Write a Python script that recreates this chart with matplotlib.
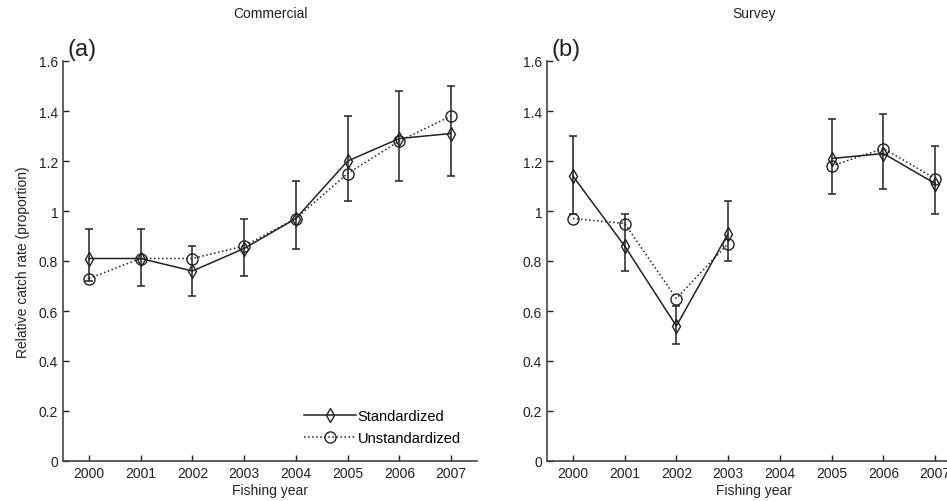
import matplotlib.pyplot as plt
import numpy as np

plt.rcParams['font.family'] = ['Liberation Sans', 'DejaVu Sans']

years = [2000, 2001, 2002, 2003, 2004, 2005, 2006, 2007]

# Commercial
com_std = [0.81, 0.81, 0.76, 0.85, 0.97, 1.20, 1.29, 1.31]
com_unstd = [0.73, 0.81, 0.81, 0.86, 0.97, 1.15, 1.28, 1.38]
com_hi = [0.93, 0.93, 0.86, 0.97, 1.12, 1.38, 1.48, 1.50]
com_lo = [0.72, 0.70, 0.66, 0.74, 0.85, 1.04, 1.12, 1.14]

# Survey (no 2004)
sur_std = [1.14, 0.86, 0.54, 0.91, np.nan, 1.21, 1.23, 1.11]
sur_unstd = [0.97, 0.95, 0.65, 0.87, np.nan, 1.18, 1.25, 1.13]
sur_hi = [1.30, 0.99, 0.62, 1.04, np.nan, 1.37, 1.39, 1.26]
sur_lo = [0.99, 0.76, 0.47, 0.80, np.nan, 1.07, 1.09, 0.99]

fig = plt.figure(figsize=(9.47, 5.02), dpi=100)
ax1 = fig.add_axes([63/947, 40/502, 414/947, 400/502])
ax2 = fig.add_axes([547/947, 40/502, 414/947, 400/502])

col = '#222222'

def panel(ax, std, unstd, hi, lo, title, tag):
    std = np.array(std, dtype=float)
    hi = np.array(hi, dtype=float)
    lo = np.array(lo, dtype=float)
    ax.errorbar(years, std, yerr=[std - lo, hi - std], fmt='none', ecolor=col,
                elinewidth=1.1, capsize=3, capthick=1.1, zorder=2)
    ax.plot(years, std, '-', color=col, lw=1.1, marker='d', ms=7, mfc='none',
            mec=col, mew=1.0, label='Standardized', zorder=3)
    ax.plot(years, unstd, ':', color=col, lw=1.1, marker='o', ms=8, mfc='none',
            mec=col, mew=1.0, label='Unstandardized', zorder=3)
    ax.set_xlim(1999.5, 2007.5)
    ax.set_ylim(0, 1.6)
    ax.set_xticks(years)
    ax.set_xticklabels([str(y) for y in years])
    ax.set_yticks([0, 0.2, 0.4, 0.6, 0.8, 1, 1.2, 1.4, 1.6])
    ax.set_yticklabels(['0', '0.2', '0.4', '0.6', '0.8', '1', '1.2', '1.4', '1.6'])
    ax.tick_params(direction='in', length=4, width=1, labelsize=10, colors=col)
    for s in ['top', 'right']:
        ax.spines[s].set_visible(False)
    for s in ['left', 'bottom']:
        ax.spines[s].set_color('#444444')
        ax.spines[s].set_linewidth(1.2)
    ax.set_title(title, fontsize=10, color=col, pad=32)
    ax.text(0.012, 1.03, tag, transform=ax.transAxes, fontsize=17, va='center', color=col)
    ax.set_xlabel('Fishing year', fontsize=10, color=col, labelpad=2)

panel(ax1, com_std, com_unstd, com_hi, com_lo, 'Commercial', '(a)')
panel(ax2, sur_std, sur_unstd, sur_hi, sur_lo, 'Survey', '(b)')

ax1.set_ylabel('Relative catch rate (proportion)', fontsize=10, color=col, labelpad=6)
ax1.legend(loc='lower right', frameon=False, fontsize=10.5, handlelength=3.6,
           handletextpad=0.1, borderaxespad=0.7, labelspacing=0.55)

plt.savefig('out.png', dpi=100)
